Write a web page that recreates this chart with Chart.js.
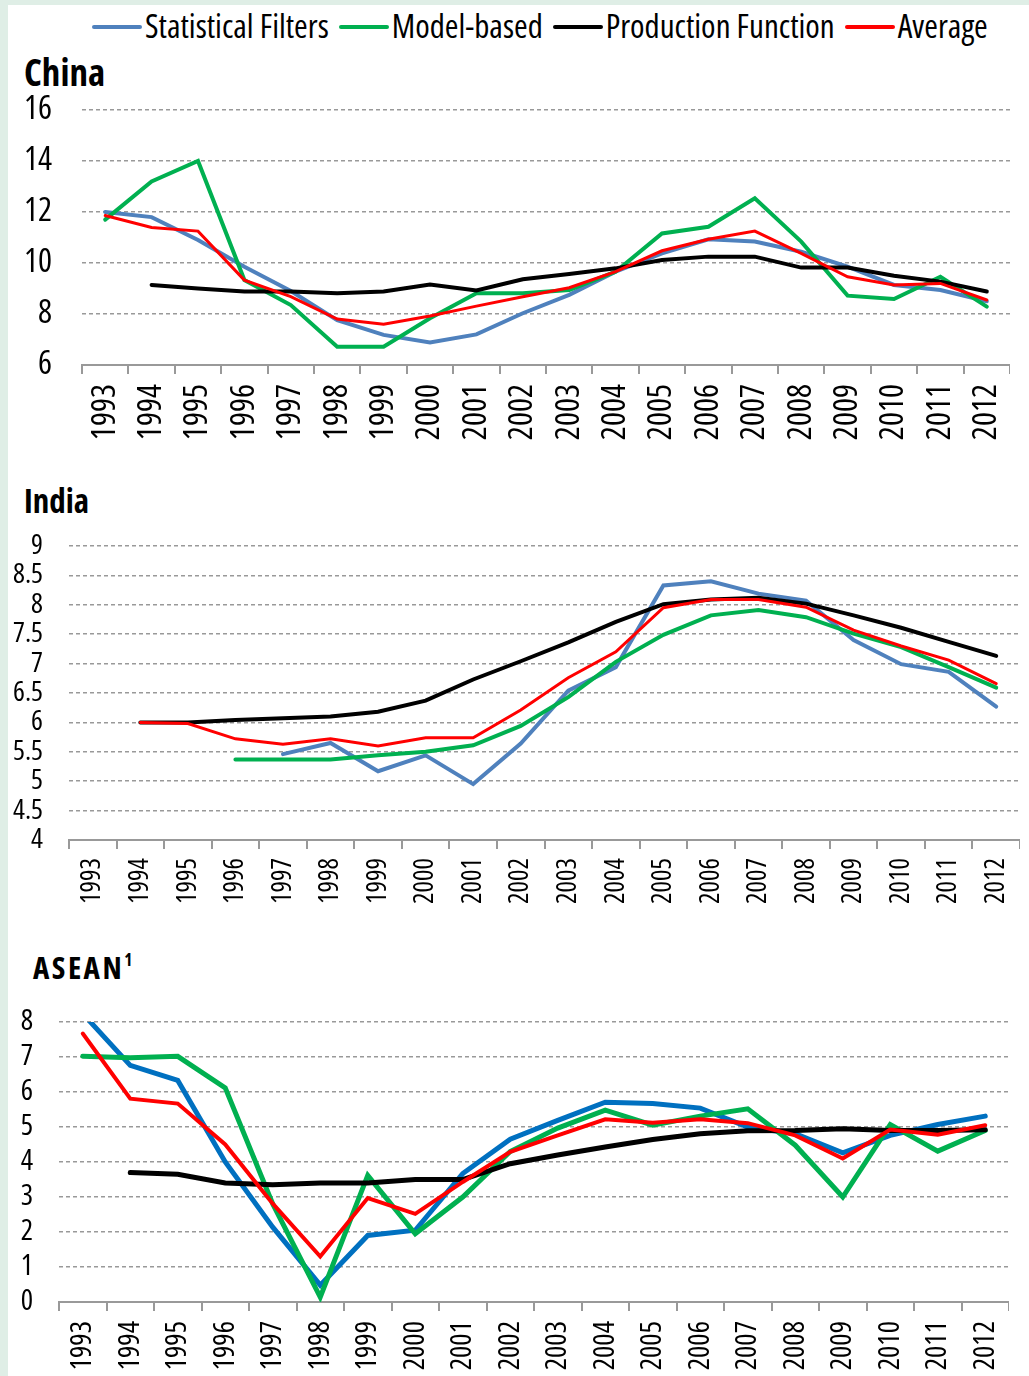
<!DOCTYPE html>
<html>
<head>
<meta charset="utf-8">
<script src="https://cdn.jsdelivr.net/npm/chart.js@4"></script>
<style>
  body { margin: 0; background: #dfeee6; width: 1029px; height: 1376px; overflow: hidden; }
  #sheet { position: absolute; left: 8px; top: 5px; width: 1021px; height: 1371px; background: #fff; }
  .box { position: absolute; left: 0; }
  .ttl { position: absolute; font-family: "Open Sans", sans-serif; font-stretch: condensed; font-weight: bold; color: #000; line-height: 1; }
  #legend { position: absolute; top: 6px; left: 92px; font-family: "Open Sans", sans-serif; font-stretch: condensed; font-size: 33px; line-height: 40px; white-space: nowrap; color: #000; }
  #legend span.item { display: inline-block; margin-right: 10px; }
  #legend span.sw { display: inline-block; width: 50px; height: 4px; border-radius: 2px; vertical-align: middle; margin-right: 3px; position: relative; top: -2px; }
</style>
</head>
<body>
<div id="sheet"></div>
<div id="legend"></div>
<div class="ttl" style="left:24px;top:53px;font-size:37px;">China</div>
<div class="ttl" style="left:24px;top:484px;font-size:33px;">India</div>
<div class="ttl" style="left:33px;top:952px;font-size:31px;letter-spacing:2.5px;">ASEAN<sup style="font-size:17px;letter-spacing:0;position:relative;top:-2px;">1</sup></div>
<div class="box" style="top:95px;width:1010px;height:365px;"><canvas id="china"></canvas></div>
<div class="box" style="top:530px;width:1020px;height:395px;"><canvas id="india"></canvas></div>
<div class="box" style="top:1006px;width:1009px;height:370px;"><canvas id="asean"></canvas></div>
<script>
// categories and series
const years = ['1993','1994','1995','1996','1997','1998','1999','2000','2001','2002',
               '2003','2004','2005','2006','2007','2008','2009','2010','2011','2012'];
const seriesNames = ['Statistical Filters', 'Model-based', 'Production Function', 'Average'];

// China
const chinaFilters = [12.0, 11.8, 10.9, 9.85, 8.9, 7.76, 7.18, 6.88, 7.2, 8.03, 8.75, 9.66, 10.38, 10.93, 10.84, 10.44, 9.86, 9.14, 8.94, 8.5];
const chinaModel   = [11.7, 13.2, 14.0, 9.33, 8.35, 6.72, 6.72, 7.83, 8.81, 8.81, 8.94, 9.66, 11.16, 11.42, 12.54, 10.84, 8.72, 8.59, 9.46, 8.29];
const chinaProd    = [null, 9.14, 9.0, 8.88, 8.88, 8.81, 8.88, 9.16, 8.92, 9.36, 9.57, 9.79, 10.12, 10.25, 10.25, 9.82, 9.82, 9.5, 9.27, 8.88];
const chinaAvg     = [11.86, 11.39, 11.25, 9.33, 8.68, 7.8, 7.6, 7.92, 8.31, 8.68, 9.03, 9.66, 10.48, 10.93, 11.25, 10.38, 9.46, 9.14, 9.2, 8.55];
const chinaTicks = [6, 8, 10, 12, 14, 16];

// India
const indiaFilters = [null, null, null, null, 5.46, 5.65, 5.17, 5.44, 4.95, 5.64, 6.54, 6.94, 8.33, 8.4, 8.19, 8.07, 7.4, 6.99, 6.86, 6.27];
const indiaModel   = [null, null, null, 5.37, 5.37, 5.37, 5.44, 5.5, 5.61, 5.94, 6.43, 7.03, 7.49, 7.82, 7.91, 7.79, 7.51, 7.28, 6.94, 6.59];
const indiaProd    = [null, 6.0, 6.0, 6.04, 6.07, 6.1, 6.18, 6.37, 6.73, 7.04, 7.36, 7.71, 8.01, 8.09, 8.12, 8.02, 7.82, 7.61, 7.37, 7.13];
const indiaAvg     = [null, 6.0, 5.98, 5.72, 5.63, 5.72, 5.6, 5.74, 5.74, 6.21, 6.76, 7.2, 7.95, 8.09, 8.09, 7.96, 7.57, 7.3, 7.06, 6.66];
const indiaTicks = [4, 4.5, 5, 5.5, 6, 6.5, 7, 7.5, 8, 8.5, 9];

// ASEAN
const aseanFilters = [8.24, 6.76, 6.33, 4.0, 2.14, 0.48, 1.9, 2.05, 3.67, 4.65, 5.19, 5.71, 5.67, 5.54, 5.0, 4.81, 4.26, 4.76, 5.07, 5.31];
const aseanModel   = [7.02, 6.98, 7.02, 6.12, 2.8, 0.14, 3.62, 1.95, 3.0, 4.3, 4.97, 5.48, 5.05, 5.31, 5.52, 4.48, 3.0, 5.07, 4.31, 4.9];
const aseanProd    = [null, 3.7, 3.65, 3.4, 3.35, 3.4, 3.4, 3.5, 3.5, 3.95, 4.2, 4.43, 4.64, 4.81, 4.89, 4.9, 4.95, 4.9, 4.9, 4.92];
const aseanAvg     = [7.67, 5.81, 5.67, 4.5, 2.81, 1.3, 2.97, 2.52, 3.43, 4.29, 4.76, 5.22, 5.12, 5.22, 5.11, 4.76, 4.1, 4.93, 4.78, 5.05];
const aseanTicks = [0, 1, 2, 3, 4, 5, 6, 7, 8];

const legendColors = ['#4f81bd', '#00b050', '#000000', '#ff0000'];

// narrow type: "condensed 30px Open Sans" (style left empty so the stretch keyword leads)
Chart.defaults.font.family = '"Open Sans", sans-serif';
Chart.defaults.font.style = '';
const cond = size => ({ size: size, style: '', weight: 'condensed' });

// legend
const lg = document.getElementById('legend');
seriesNames.forEach((n, i) => {
  lg.innerHTML += '<span class="item"><span class="sw" style="background:' + legendColors[i] + '"></span>' + n + '</span>';
});

function makeChart(id, series, blue, ticks, opt) {
  const colors = [blue, '#00b050', '#000000', '#ff0000'];
  const widths = [opt.lw, opt.lw, opt.lw, opt.lw - 1];
  const order = [3, 2, 1, 0];
  new Chart(document.getElementById(id), {
    type: 'line',
    data: {
      labels: years,
      datasets: series.map((d, i) => ({
        label: seriesNames[i],
        data: d,
        borderColor: colors[i],
        borderWidth: widths[i],
        pointRadius: 0,
        tension: 0,
        spanGaps: false,
        borderCapStyle: 'round',
        order: order[i]
      }))
    },
    options: {
      responsive: true,
      maintainAspectRatio: false,
      animation: false,
      layout: { padding: { top: opt.top, left: 0, right: 0, bottom: 0 } },
      plugins: { legend: { display: false }, tooltip: { enabled: false } },
      scales: {
        x: {
          offset: true,
          grid: { display: true, drawOnChartArea: false, drawTicks: true, tickLength: 9, color: '#999', lineWidth: 2, offset: true },
          border: { display: true, color: '#999', width: 2 },
          ticks: { color: '#000', font: cond(opt.xfs), minRotation: 90, maxRotation: 90, autoSkip: false, padding: opt.xpad },
          afterFit: s => { s.height = opt.xh; s.paddingLeft = 0; s.paddingRight = 0; }
        },
        y: {
          min: ticks[0],
          max: ticks[ticks.length - 1],
          afterBuildTicks: s => { s.ticks = ticks.map(v => ({ value: v })); },
          grid: { color: '#999', lineWidth: 1.5, drawTicks: false },
          border: { display: false, dash: [4, 3] },
          ticks: { color: '#000', font: cond(opt.yfs), padding: opt.ypad, autoSkip: false, callback: v => String(v) },
          afterFit: s => { s.width = opt.yw; s.paddingTop = 0; s.paddingBottom = 0; }
        }
      }
    }
  });
}

makeChart('china', [chinaFilters, chinaModel, chinaProd, chinaAvg], '#4f81bd', chinaTicks,
  { top: 15, xh: 95, yw: 82, xfs: 33, yfs: 33, xpad: 10, ypad: 30, lw: 4 });
makeChart('india', [indiaFilters, indiaModel, indiaProd, indiaAvg], '#4f81bd', indiaTicks,
  { top: 16, xh: 85, yw: 69, xfs: 27, yfs: 28, xpad: 9, ypad: 26, lw: 4 });
makeChart('asean', [aseanFilters, aseanModel, aseanProd, aseanAvg], '#0070c0', aseanTicks,
  { top: 16, xh: 74, yw: 59, xfs: 29, yfs: 29, xpad: 10, ypad: 26, lw: 5 });
</script>
</body>
</html>
